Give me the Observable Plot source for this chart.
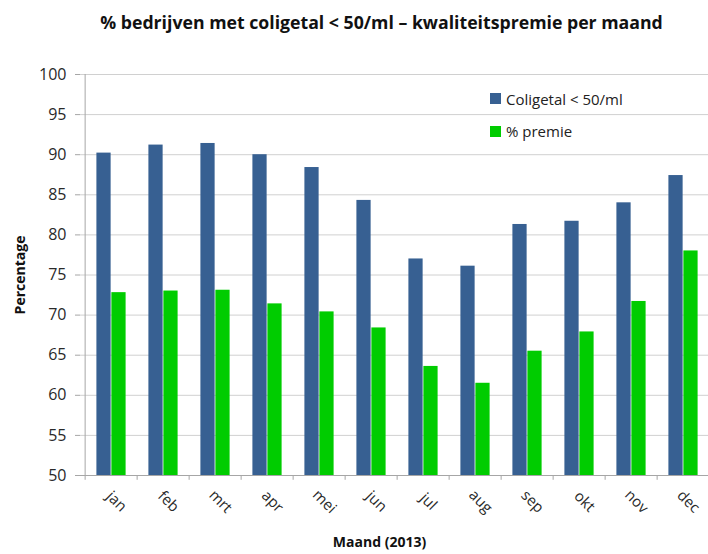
<!DOCTYPE html>
<html><head><meta charset="utf-8">
<script src="https://cdn.jsdelivr.net/npm/d3@7"></script>
<script src="https://cdn.jsdelivr.net/npm/@observablehq/plot@0.6"></script>
<style>
body{margin:0;background:#fff;font-family:"Open Sans",sans-serif;}
#wrap{position:relative;width:708px;height:554px;overflow:hidden;background:#fff;}
#title{position:absolute;left:55px;right:0;top:10px;text-align:center;font-weight:bold;font-size:17.7px;color:#111;white-space:nowrap;}
#chart{position:absolute;left:0;top:44px;}
.leg{position:absolute;left:490px;font-size:15px;color:#222;display:flex;align-items:center;white-space:nowrap;}
.sw{width:11px;height:11px;margin-right:5px;flex:none;}
.axt{position:absolute;font-weight:bold;font-size:14px;color:#111;white-space:nowrap;}
</style></head><body>
<div id="wrap">
<div id="title">% bedrijven met coligetal &lt; 50/ml – kwaliteitspremie per maand</div>
<div id="chart"></div>
<div id="legend"></div>
<div class="axt" id="xt" style="left:379.5px;top:541px;transform:translate(-50%,-50%);">Maand (2013)</div>
<div class="axt" id="yt" style="left:18.5px;top:275px;transform:translate(-50%,-50%) rotate(-90deg);">Percentage</div>
</div>
<script>
const months = ["jan","feb","mrt","apr","mei","jun","jul","aug","sep","okt","nov","dec"];
const coligetal = [90.2, 91.2, 91.4, 90.0, 88.4, 84.3, 77.0, 76.1, 81.3, 81.7, 84.0, 87.4];
const premie = [72.8, 73.0, 73.1, 71.4, 70.4, 68.4, 63.6, 61.5, 65.5, 67.9, 71.7, 78.0];
const yTicks = [50, 55, 60, 65, 70, 75, 80, 85, 90, 95, 100];
const seriesNames = ["Coligetal < 50/ml", "% premie"];
const seriesColors = ["#376092", "#00cc00"];

const data = months.map((m, i) => ({month: m, coli: coligetal[i], premie: premie[i]}));
const x0 = 80.3, x1 = 713.3;
const band = (x1 - x0) / months.length;
const outer = 11.4;

const chart = Plot.plot({
  width: 708, height: 510,
  marginTop: 30, marginBottom: 79, marginLeft: 80, marginRight: 0,
  style: {fontFamily: "Open Sans", fontSize: "16px", color: "#333", background: "white"},
  x: {type: "band", domain: months, range: [x0, x1], padding: 0, axis: null},
  y: {domain: [50, 100]},
  marks: [
    Plot.ruleY(yTicks.slice(1), {stroke: "#d0d0d0", strokeWidth: 1}),
    Plot.barY(data, {x: "month", y1: 50, y2: "coli", fill: seriesColors[0], insetLeft: outer, insetRight: band / 2}),
    Plot.barY(data, {x: "month", y1: 50, y2: "premie", fill: seriesColors[1], insetLeft: band / 2, insetRight: outer}),
    Plot.ruleY([50], {stroke: "#a6a6a6"}),
    Plot.ruleX([months[0]], {x: d => d, y1: 50, y2: 100, dx: -band / 2, stroke: "#a6a6a6"}),
    Plot.ruleX(months, {x: d => d, y1: 50, y2: 49.4, dx: -band / 2, stroke: "#a6a6a6"}),
    Plot.axisY({ticks: yTicks, tickSize: 5, tickPadding: 9, tickFormat: d => String(d), stroke: "#a6a6a6", fill: "#2a2a2a", fontSize: 16, label: null}),
    Plot.text(months, {x: d => d, y: 50, rotate: 45, dx: 5, dy: 26, fontSize: 15, fill: "#2a2a2a"})
  ]
});
document.getElementById("chart").appendChild(chart);

const legend = document.getElementById("legend");
const legTops = [98.5, 131];
seriesNames.forEach((name, i) => {
  const row = document.createElement("div");
  row.className = "leg";
  row.style.top = legTops[i] + "px";
  row.style.transform = "translateY(-50%)";
  const sw = document.createElement("span");
  sw.className = "sw";
  sw.style.background = seriesColors[i];
  const t = document.createElement("span");
  t.textContent = name;
  row.appendChild(sw); row.appendChild(t);
  legend.appendChild(row);
});
</script>
</body></html>
